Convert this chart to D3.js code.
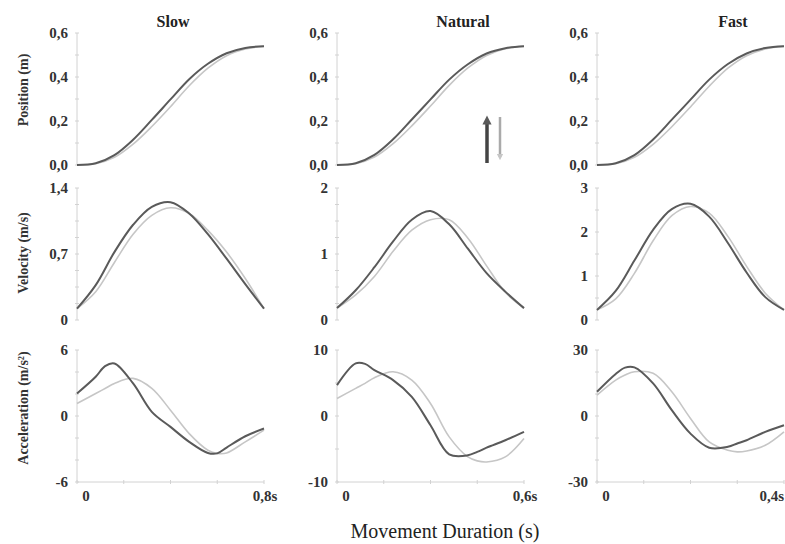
<!DOCTYPE html>
<html>
<head>
<meta charset="utf-8">
<script src="https://cdn.jsdelivr.net/npm/d3@7"></script>
<style>
  body { margin: 0; background: #fff; }
  text { font-family: "Liberation Serif", "DejaVu Serif", serif; }
</style>
</head>
<body>
<div id="chart"></div>
<script>
// conditions / durations
var conditions = ["Slow", "Natural", "Fast"];
var durations = [0.8, 0.6, 0.4];
var endLabels = ["0,8s", "0,6s", "0,4s"];

// normalised sample times (fraction of movement duration)
var timeFrac = [0, 0.1, 0.2, 0.3, 0.4, 0.5, 0.6, 0.7, 0.8, 0.9, 1.0];
var accTimeFrac = [0, 0.1, 0.15, 0.2, 0.3, 0.4, 0.5, 0.6, 0.7, 0.75, 0.8, 0.9, 1.0];

// position (m) : dark / light per condition
var posDark = [
  [0, 0.008, 0.045, 0.115, 0.205, 0.298, 0.39, 0.46, 0.508, 0.532, 0.54],
  [0, 0.008, 0.046, 0.117, 0.207, 0.298, 0.388, 0.458, 0.507, 0.531, 0.54],
  [0, 0.008, 0.045, 0.116, 0.206, 0.297, 0.388, 0.459, 0.507, 0.532, 0.54]
];
var posLight = [
  [0, 0.006, 0.035, 0.095, 0.175, 0.265, 0.36, 0.44, 0.497, 0.527, 0.54],
  [0, 0.006, 0.036, 0.097, 0.178, 0.268, 0.362, 0.441, 0.498, 0.528, 0.54],
  [0, 0.006, 0.035, 0.094, 0.174, 0.264, 0.358, 0.44, 0.497, 0.527, 0.54]
];

// velocity (m/s)
var velDark = [
  [0.12, 0.37, 0.72, 1.01, 1.20, 1.25, 1.13, 0.91, 0.65, 0.38, 0.12],
  [0.18, 0.45, 0.80, 1.19, 1.52, 1.65, 1.45, 1.08, 0.71, 0.43, 0.18],
  [0.23, 0.66, 1.35, 2.05, 2.52, 2.64, 2.35, 1.75, 1.08, 0.52, 0.23]
];
var velLight = [
  [0.12, 0.30, 0.61, 0.91, 1.11, 1.19, 1.13, 0.95, 0.72, 0.44, 0.12],
  [0.18, 0.38, 0.66, 1.04, 1.36, 1.52, 1.52, 1.24, 0.82, 0.42, 0.18],
  [0.23, 0.48, 1.06, 1.80, 2.37, 2.58, 2.43, 1.90, 1.22, 0.61, 0.23]
];

// acceleration (m/s2)
var accDark = [
  [2.05, 3.57, 4.54, 4.78, 2.96, 0.38, -0.99, -2.35, -3.36, -3.40, -2.87, -1.84, -1.14],
  [4.68, 7.97, 7.9, 6.96, 5.44, 2.9, -1.4, -5.8, -5.95, -5.44, -4.8, -3.67, -2.41],
  [11.0, 19.1, 22.0, 22.1, 14.8, 2.66, -8.0, -14.4, -14.0, -12.5, -11.0, -7.2, -4.2]
];
var accLight = [
  [1.14, 2.05, 2.5, 2.96, 3.42, 2.51, 0.53, -1.6, -3.11, -3.4, -3.36, -2.35, -1.29],
  [2.66, 4.18, 4.94, 5.8, 6.7, 5.44, 1.9, -3.16, -6.2, -6.8, -6.96, -6.2, -3.42],
  [9.5, 16.3, 18.6, 20.1, 19.4, 11.0, -1.1, -11.8, -15.6, -16.3, -15.9, -13.3, -7.2]
];

// y axes: domains and labelled ticks
var posDomain = [0, 0.6];
var posTicks = [0, 0.2, 0.4, 0.6];
var posLabels = ["0,0", "0,2", "0,4", "0,6"];
var posMinor = [0, 0.1, 0.2, 0.3, 0.4, 0.5, 0.6];

var velDomains = [[0, 1.4], [0, 2], [0, 3]];
var velTicks = [[0, 0.7, 1.4], [0, 1, 2], [0, 1, 2, 3]];
var velLabels = [["0", "0,7", "1,4"], ["0", "1", "2"], ["0", "1", "2", "3"]];
var velMinorStep = [0.175, 0.25, 0.5];

var accDomains = [[-6, 6], [-10, 10], [-30, 30]];
var accTicks = [[-6, 0, 6], [-10, 0, 10], [-30, 0, 30]];
var accLabels = [["-6", "0", "6"], ["-10", "0", "10"], ["-30", "0", "30"]];
var accMinorStep = [2, 5, 10];

var rowTitles = ["Position (m)", "Velocity (m/s)", "Acceleration (m/s²)"];

// layout
var W = 785, H = 544;
var colX = [77, 337, 597], plotW = 187;
var rowY = [[33, 165], [188, 320], [350, 482]];
var titleX = [173, 463, 733];
var darkColor = "#5a5a5a", lightColor = "#c6c6c6", axisColor = "#d2d2d2";

var svg = d3.select("#chart").append("svg")
  .attr("width", W).attr("height", H);

var line = d3.line().curve(d3.curveCatmullRom.alpha(0.5));

function panel(ci, ri, domain, ticks, labels, minor, dark, light, tf) {
  var x = d3.scaleLinear().domain([0, durations[ci]]).range([colX[ci], colX[ci] + plotW]);
  var y = d3.scaleLinear().domain(domain).range([rowY[ri][1], rowY[ri][0]]);
  var g = svg.append("g");

  // y axis line + minor ticks
  g.append("line")
    .attr("x1", x(0)).attr("x2", x(0))
    .attr("y1", y(domain[0])).attr("y2", y(domain[1]))
    .attr("stroke", axisColor).attr("stroke-width", 1);
  g.selectAll(".ytick").data(minor).enter().append("line")
    .attr("x1", x(0) - 2).attr("x2", x(0) + 2)
    .attr("y1", d => y(d)).attr("y2", d => y(d))
    .attr("stroke", axisColor);
  g.selectAll(".ylab").data(ticks).enter().append("text")
    .attr("x", x(0) - 9).attr("y", d => y(d) + 5)
    .attr("text-anchor", "end")
    .attr("font-size", 15).attr("font-weight", "bold").attr("fill", "#333")
    .text((d, i) => labels[i]);

  // x axis only on bottom row
  if (ri === 2) {
    g.append("line")
      .attr("x1", x(0)).attr("x2", x(durations[ci]))
      .attr("y1", y(domain[0])).attr("y2", y(domain[0]))
      .attr("stroke", axisColor);
    var xt = d3.range(0, 5).map(k => durations[ci] * k / 4);
    g.selectAll(".xtick").data(xt).enter().append("line")
      .attr("x1", d => x(d)).attr("x2", d => x(d))
      .attr("y1", y(domain[0]) - 2).attr("y2", y(domain[0]) + 2)
      .attr("stroke", axisColor);
    g.append("text")
      .attr("x", x(0) + 9).attr("y", y(domain[0]) + 19)
      .attr("text-anchor", "middle")
      .attr("font-size", 15).attr("font-weight", "bold").attr("fill", "#333")
      .text("0");
    var last = ci === 2;
    g.append("text")
      .attr("x", last ? W - 1 : x(durations[ci]) + 1).attr("y", y(domain[0]) + 19)
      .attr("text-anchor", last ? "end" : "middle")
      .attr("font-size", 15).attr("font-weight", "bold").attr("fill", "#333")
      .text(endLabels[ci]);
  }

  var pts = s => s.map((v, i) => [x(tf[i] * durations[ci]), y(v)]);
  g.append("path").attr("d", line(pts(light)))
    .attr("fill", "none").attr("stroke", lightColor).attr("stroke-width", 1.6);
  g.append("path").attr("d", line(pts(dark)))
    .attr("fill", "none").attr("stroke", darkColor).attr("stroke-width", 2);
}

conditions.forEach(function(c, ci) {
  panel(ci, 0, posDomain, posTicks, posLabels, posMinor, posDark[ci], posLight[ci], timeFrac);
  var vm = d3.range(0, velDomains[ci][1] + 1e-6, velMinorStep[ci]);
  panel(ci, 1, velDomains[ci], velTicks[ci], velLabels[ci], vm, velDark[ci], velLight[ci], timeFrac);
  var am = d3.range(accDomains[ci][0], accDomains[ci][1] + 1e-6, accMinorStep[ci]);
  panel(ci, 2, accDomains[ci], accTicks[ci], accLabels[ci], am, accDark[ci], accLight[ci], accTimeFrac);

  svg.append("text")
    .attr("x", titleX[ci]).attr("y", 27)
    .attr("text-anchor", "middle")
    .attr("font-size", 16).attr("font-weight", "bold").attr("fill", "#222")
    .text(c);
});

// row titles (rotated)
var rowCenters = [90, 253, 408];
rowTitles.forEach(function(t, i) {
  svg.append("text")
    .attr("transform", "translate(28," + rowCenters[i] + ") rotate(-90)")
    .attr("text-anchor", "middle")
    .attr("font-size", 14).attr("font-weight", "bold").attr("fill", "#333")
    .text(t);
});

// direction arrows in the natural position panel
svg.append("defs").selectAll("marker")
  .data([["darkHead", darkColor], ["lightHead", lightColor]])
  .enter().append("marker")
  .attr("id", d => d[0])
  .attr("viewBox", "0 0 10 10").attr("refX", 5).attr("refY", 5)
  .attr("markerWidth", 2.6).attr("markerHeight", 3.2)
  .attr("orient", "auto")
  .append("path").attr("d", "M0,0 L10,5 L0,10 Z").attr("fill", d => d[1]);

svg.append("line")
  .attr("x1", 487).attr("y1", 163).attr("x2", 487).attr("y2", 120)
  .attr("stroke", "#444").attr("stroke-width", 3.5)
  .attr("marker-end", "url(#darkHead)");
svg.append("line")
  .attr("x1", 500).attr("y1", 117).attr("x2", 500).attr("y2", 157)
  .attr("stroke", "#aaa").attr("stroke-width", 2.5)
  .attr("marker-end", "url(#lightHead)");

// x axis title
svg.append("text")
  .attr("x", 445).attr("y", 538)
  .attr("text-anchor", "middle")
  .attr("font-size", 20).attr("fill", "#222")
  .text("Movement Duration (s)");
</script>
</body>
</html>
